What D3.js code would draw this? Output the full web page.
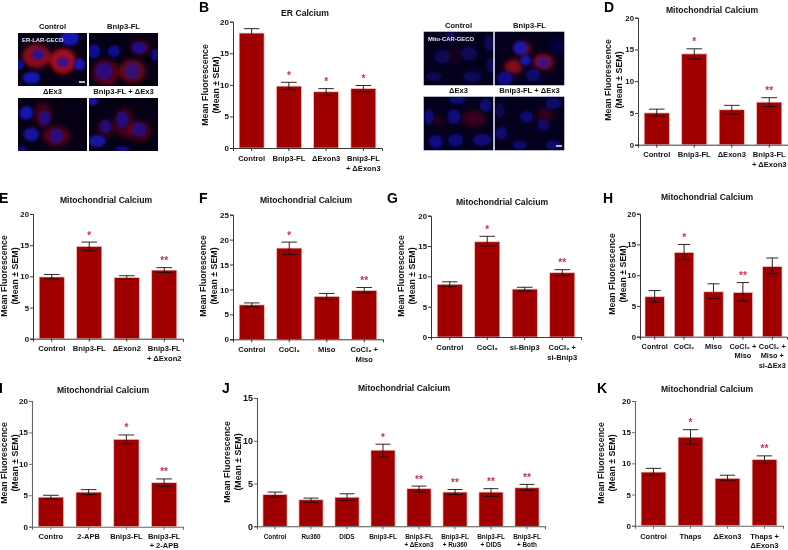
<!DOCTYPE html>
<html><head><meta charset="utf-8">
<script src="https://cdn.jsdelivr.net/npm/d3@7"></script>
<style>
html,body{margin:0;padding:0;background:#fff}
svg{display:block;filter:blur(0.35px)}
text{font-family:"Liberation Sans",Arial,sans-serif;font-weight:bold;fill:#111}
</style></head><body><svg id="c" width="788" height="550"></svg>
<script>
// ---------- data ----------
const bCats=["Control","Bnip3-FL","ΔExon3","Bnip3-FL\n+ ΔExon3"];
const bVals=[18.2,9.8,8.9,9.4], bHi=[18.9,10.4,9.4,9.9], bLo=[17.5,9.2,8.3,8.9], bSig=["","*","*","*"];
const dCats=["Control","Bnip3-FL","ΔExon3","Bnip3-FL\n+ ΔExon3"];
const dVals=[5.0,14.3,5.5,6.7], dHi=[5.6,15.1,6.2,7.4], dLo=[4.5,13.5,4.8,6.0], dSig=["","*","","**"];
const eCats=["Control","Bnip3-FL","ΔExon2","Bnip3-FL\n+ ΔExon2"];
const eVals=[9.9,14.8,9.8,11.0], eHi=[10.3,15.5,10.1,11.4], eLo=[9.6,14.1,9.5,10.6], eSig=["","*","","**"];
const fCats=["Control","CoCl₂","Miso","CoCl₂ +\nMiso"];
const fVals=[6.9,18.3,8.6,9.8], fHi=[7.3,19.5,9.2,10.4], fLo=[6.5,17.0,8.0,9.3], fSig=["","*","","**"];
const gCats=["Control","CoCl₂","si-Bnip3","CoCl₂ +\nsi-Bnip3"];
const gVals=[8.7,15.7,7.9,10.6], gHi=[9.1,16.6,8.2,11.1], gLo=[8.3,15.0,7.6,10.1], gSig=["","*","","**"];
const hCats=["Control","CoCl₂","Miso","CoCl₂ +\nMiso","CoCl₂ +\nMiso +\nsi-ΔEx3"];
const hVals=[6.5,13.7,7.3,7.2,11.4], hHi=[7.5,15.0,8.6,8.8,12.8], hLo=[5.6,12.5,6.2,5.8,10.2], hSig=["","*","","**",""];
const iCats=["Contro","2-APB","Bnip3-FL","Bnip3-FL\n+ 2-APB"];
const iVals=[4.7,5.5,13.9,7.0], iHi=[5.0,5.9,14.6,7.6], iLo=[4.4,5.1,13.2,6.4], iSig=["","","*","**"];
const jCats=["Control","Ru360","DIDS","Bnip3-FL","Bnip3-FL\n+ ΔExon3","Bnip3-FL\n+ Ru360","Bnip3-FL\n+ DIDS","Bnip3-FL\n+ Both"];
const jVals=[3.7,3.1,3.4,8.9,4.4,4.0,4.0,4.5], jHi=[4.0,3.3,3.8,9.6,4.7,4.3,4.4,4.9], jLo=[3.4,2.8,3.0,8.1,4.0,3.7,3.5,4.2], jSig=["","","","*","**","**","**","**"];
const kCats=["Control","Thaps","ΔExon3","Thaps +\nΔExon3"];
const kVals=[8.6,14.2,7.6,10.6], kHi=[9.2,15.4,8.1,11.2], kLo=[8.1,13.1,7.2,10.0], kSig=["","*","","**"];
const yTicks5=[0,5,10,15,20], yTicks25=[0,5,10,15,20,25], yTicks15=[0,5,10,15];
const titleER="ER Calcium", titleMito="Mitochondrial Calcium";
const yLine1="Mean Fluorescence", yLine2="(Mean ± SEM)";

// ---------- layout ----------
const panels=[
 {l:"B",lx:199,ly:12,title:titleER,cats:bCats,v:bVals,hi:bHi,lo:bLo,sig:bSig,ticks:yTicks5,x0:233,x1:382,y0:148,yT:21.7,tx:305,ty:16,pad:.33,fs:7.6,gap:10,ly1:161,tf:8},
 {l:"D",lx:604,ly:12,title:titleMito,cats:dCats,v:dVals,hi:dHi,lo:dLo,sig:dSig,ticks:yTicks5,x0:638,x1:788,y0:144.7,yT:17.7,tx:712,ty:13,pad:.33,fs:7.6,gap:10,ly1:157,tf:7.8},
 {l:"E",lx:-1,ly:203,title:titleMito,cats:eCats,v:eVals,hi:eHi,lo:eLo,sig:eSig,ticks:yTicks5,x0:33,x1:183,y0:338.7,yT:214,tx:106,ty:203,pad:.33,fs:7.6,gap:9.6,ly1:351,tf:7.8},
 {l:"F",lx:199,ly:203,title:titleMito,cats:fCats,v:fVals,hi:fHi,lo:fLo,sig:fSig,ticks:yTicks25,x0:233,x1:383,y0:339.3,yT:214.7,tx:306,ty:203,pad:.33,fs:7.6,gap:9.6,ly1:352,tf:8},
 {l:"G",lx:387,ly:203,title:titleMito,cats:gCats,v:gVals,hi:gHi,lo:gLo,sig:gSig,ticks:yTicks5,x0:431,x1:581,y0:337,yT:215.7,tx:502,ty:205,pad:.33,fs:7.6,gap:9.6,ly1:350,tf:7.8},
 {l:"H",lx:603,ly:203,title:titleMito,cats:hCats,v:hVals,hi:hHi,lo:hLo,sig:hSig,ticks:yTicks5,x0:640,x1:787,y0:336.7,yT:213.7,tx:707,ty:200,pad:.34,fs:7.4,gap:9.6,ly1:348.5,tf:7.8},
 {l:"I",lx:-1,ly:393,title:titleMito,cats:iCats,v:iVals,hi:iHi,lo:iLo,sig:iSig,ticks:yTicks5,x0:32,x1:183,y0:526.7,yT:401,tx:103,ty:393,pad:.33,fs:7.5,gap:9,ly1:539,tf:8,ac:"#666"},
 {l:"J",lx:222,ly:393,title:titleMito,cats:jCats,v:jVals,hi:jHi,lo:jLo,sig:jSig,ticks:yTicks15,x0:257,x1:545,y0:526.3,yT:398,tx:404,ty:391,pad:.33,fs:6.4,gap:8,ly1:539,tf:9,ac:"#555"},
 {l:"K",lx:597,ly:393,title:titleMito,cats:kCats,v:kVals,hi:kHi,lo:kLo,sig:kSig,ticks:yTicks5,x0:635,x1:783,y0:525.7,yT:401,tx:707,ty:392,pad:.33,fs:7.5,gap:9,ly1:539,tf:8,ac:"#666"}
];
const ylab={B:[205,216,85],D:[608,619,80],E:[4,15,276],F:[203,214,276],G:[401,412,276],H:[612,623,274],I:[4,15,463],J:[227,238,462],K:[601,612,463]};
const RED="#a00000";

const svg=d3.select("#c");
const defs=svg.append("defs");
defs.append("filter").attr("id","bl").attr("x","-60%").attr("y","-60%").attr("width","220%").attr("height","220%").append("feGaussianBlur").attr("stdDeviation",2.6);
defs.append("filter").attr("id","bn").attr("x","-60%").attr("y","-60%").attr("width","220%").attr("height","220%").append("feGaussianBlur").attr("stdDeviation",1.6);

panels.forEach(p=>{
  const g=svg.append("g");
  const x=d3.scaleBand().domain(p.cats).range([p.x0,p.x1]).paddingInner(p.pad).paddingOuter(p.pad/2);
  const top=p.ticks[p.ticks.length-1];
  const y=d3.scaleLinear().domain([0,top]).range([p.y0,p.yT]);
  const ac=p.ac||"#222", aw=p.ac?1.1:.9;
  const cx=(d,i)=>x(p.cats[i])+x.bandwidth()/2;
  g.selectAll("rect.b").data(p.v).join("rect").attr("class","b")
    .attr("x",(d,i)=>x(p.cats[i])).attr("width",x.bandwidth())
    .attr("y",d=>y(d)).attr("height",d=>y(0)-y(d))
    .attr("fill",RED).attr("stroke","#f4c4c4").attr("stroke-width",.7);
  const cap=x.bandwidth()*.31;
  p.v.forEach((d,i)=>{
    const c=cx(d,i);
    const e=g.append("g").attr("stroke","#1a0c0c").attr("stroke-width",.9).attr("fill","none");
    e.append("line").attr("x1",c).attr("x2",c).attr("y1",y(p.hi[i])).attr("y2",y(p.lo[i]));
    e.append("line").attr("x1",c-cap).attr("x2",c+cap).attr("y1",y(p.hi[i])).attr("y2",y(p.hi[i]));
    e.append("line").attr("x1",c-cap).attr("x2",c+cap).attr("y1",y(p.lo[i])).attr("y2",y(p.lo[i]));
    if(p.sig[i]) g.append("text").attr("x",c).attr("y",y(p.hi[i])-3.5).attr("text-anchor","middle")
      .attr("font-size",10).style("fill","#c8324a").text(p.sig[i]);
    const lines=p.cats[i].split("\n");
    lines.forEach((t,k)=>g.append("text").attr("x",c).attr("y",p.ly1+k*p.gap).attr("text-anchor","middle").attr("font-size",p.fs).text(t));
  });
  // axes
  const ay=g.append("g").attr("transform",`translate(${p.x0},0)`).call(d3.axisLeft(y).tickValues(p.ticks).tickSize(3).tickPadding(1).tickFormat(d3.format("d")));
  ay.selectAll("text").attr("font-size",p.tf).style("font-family",'"Liberation Sans",Arial,sans-serif').style("font-weight","bold");
  ay.select(".domain").attr("stroke",ac).attr("stroke-width",aw);
  ay.selectAll(".tick line").attr("stroke",ac).attr("stroke-width",.9);
  const ax=g.append("g").attr("transform",`translate(0,${p.y0})`).call(d3.axisBottom(x).tickSize(3).tickFormat(""));
  ax.select(".domain").attr("stroke",ac).attr("stroke-width",aw);
  ax.selectAll(".tick line").attr("stroke",ac).attr("stroke-width",.9);
  // text
  g.append("text").attr("x",p.tx).attr("y",p.ty).attr("text-anchor","middle").attr("font-size",8.6).text(p.title);
  const yl=ylab[p.l];
  [[yLine1,yl[0]],[yLine2,yl[1]]].forEach(([t,xx])=>g.append("text").attr("transform",`translate(${xx},${yl[2]}) rotate(-90)`).attr("text-anchor","middle").attr("dy","0.35em").attr("font-size",8.8).text(t));
  g.append("text").attr("x",p.lx).attr("y",p.ly).attr("font-size",14).style("fill","#000").text(p.l);
});

// ---------- micrographs: tile blobs as [cx,cy,rx,ry,opacity] on a 207x160 tile grid ----------
const a1Blue=[[60,65,18,16,.8],[135,88,20,18,.7],[40,135,26,18,1],[155,15,28,23,1],[185,95,16,18,1],[5,95,12,16,.8]];
const a1Red=[[55,70,42,36,.8],[135,85,38,38,1]];
const a2Blue=[[15,55,18,22,.8],[75,55,18,18,.8],[150,45,22,18,.75],[45,115,26,26,.65],[130,115,22,25,.6],[200,65,13,18,.8]];
const a2Red=[[50,120,40,38,.5],[130,115,40,36,.55],[155,45,30,22,.4]];
const a3Blue=[[25,45,20,20,1],[80,60,18,22,.65],[40,110,23,20,.9],[115,115,20,23,.65],[10,155,13,8,.8]];
const a3Red=[[75,50,26,36,.4],[115,115,40,30,.5]];
const a4Blue=[[10,10,18,12,.85],[50,85,16,20,.65],[100,65,18,26,.65],[150,95,22,22,.65],[25,130,26,18,.9],[100,155,22,10,.7]];
const a4Red=[[105,75,30,45,.35],[150,100,36,30,.4],[50,90,26,26,.3]];
const c1Blue=[[55,75,24,21,.38],[135,65,24,21,.38],[195,35,14,24,.38],[200,100,12,24,.38],[30,135,24,14,.38],[145,135,28,17,.38],[80,10,18,10,.38]];
const c1Red=[[90,70,28,22,.1]];
const c2Blue=[[75,48,20,20,.95],[92,85,16,16,.9],[145,92,20,15,.7],[30,140,24,20,.7],[115,130,23,20,.5],[190,40,24,24,.22]];
const c2Red=[[85,50,24,22,.55],[55,105,27,22,.75],[145,90,30,23,.85]];
const c3Blue=[[100,10,24,12,.6],[90,60,20,23,.6],[185,25,17,20,.6],[15,60,14,24,.6],[35,135,20,20,.7],[95,130,23,20,.6],[175,130,28,18,.6]];
const c3Red=[[150,65,36,25,.3],[40,70,23,14,.18]];
const c4Blue=[[15,40,14,24,.28],[95,60,20,18,.55],[175,20,24,18,.5],[20,110,18,20,.55],[145,85,18,18,.5],[75,145,23,14,.5],[175,145,23,14,.55]];
const c4Red=[[150,55,26,23,.25]];

const tiles=[
 {x:18,y:33,red:a1Red,blue:a1Blue,t:"Control",bar:1,tag:"ER-LAR-GECO"},
 {x:89,y:33,red:a2Red,blue:a2Blue,t:"Bnip3-FL"},
 {x:18,y:98,red:a3Red,blue:a3Blue,t:"ΔEx3"},
 {x:89,y:98,red:a4Red,blue:a4Blue,t:"Bnip3-FL + ΔEx3"},
 {x:424,y:32,red:c1Red,blue:c1Blue,t:"Control",tag:"Mito-CAR-GECO"},
 {x:495,y:32,red:c2Red,blue:c2Blue,t:"Bnip3-FL"},
 {x:424,y:97,red:c3Red,blue:c3Blue,t:"ΔEx3"},
 {x:495,y:97,red:c4Red,blue:c4Blue,t:"Bnip3-FL + ΔEx3",bar:1}
];
tiles.forEach((t,i)=>{
  const W=69,H=53;
  const sx=d3.scaleLinear().domain([0,207]).range([0,W]), sy=d3.scaleLinear().domain([0,160]).range([0,H]);
  defs.append("clipPath").attr("id","cl"+i).append("rect").attr("width",W).attr("height",H);
  const g=svg.append("g").attr("transform",`translate(${t.x},${t.y})`);
  const inner=g.append("g").attr("clip-path",`url(#cl${i})`);
  inner.append("rect").attr("width",W).attr("height",H).attr("fill",i>=4?"#04001c":"#050014");
  const draw=(arr,col,f)=>inner.append("g").attr("filter",f).selectAll("ellipse").data(arr).join("ellipse")
    .attr("cx",d=>sx(d[0])).attr("cy",d=>sy(d[1])).attr("rx",d=>sx(d[2])).attr("ry",d=>sy(d[3]))
    .attr("fill",col).attr("opacity",d=>d[4]);
  draw(t.red,"#b00c18","url(#bl)");
  draw(t.blue,"#1414b4","url(#bn)");
  g.append("rect").attr("x",-.25).attr("y",-.25).attr("width",W+.5).attr("height",H+.5).attr("fill","none").attr("stroke",i>=4?"#6a7090":"none").attr("stroke-width",.5);
  svg.append("text").attr("x",t.x+W/2).attr("y",t.y-4).attr("text-anchor","middle").attr("font-size",7.6).text(t.t);
  if(t.tag) g.append("text").attr("x",4).attr("y",9).attr("font-size",5.9).style("fill","#e8e8f4").text(t.tag);
  if(t.bar) g.append("rect").attr("x",W-8).attr("y",H-5).attr("width",6).attr("height",2).attr("fill","#b8b8cc");
});
</script></body></html>
